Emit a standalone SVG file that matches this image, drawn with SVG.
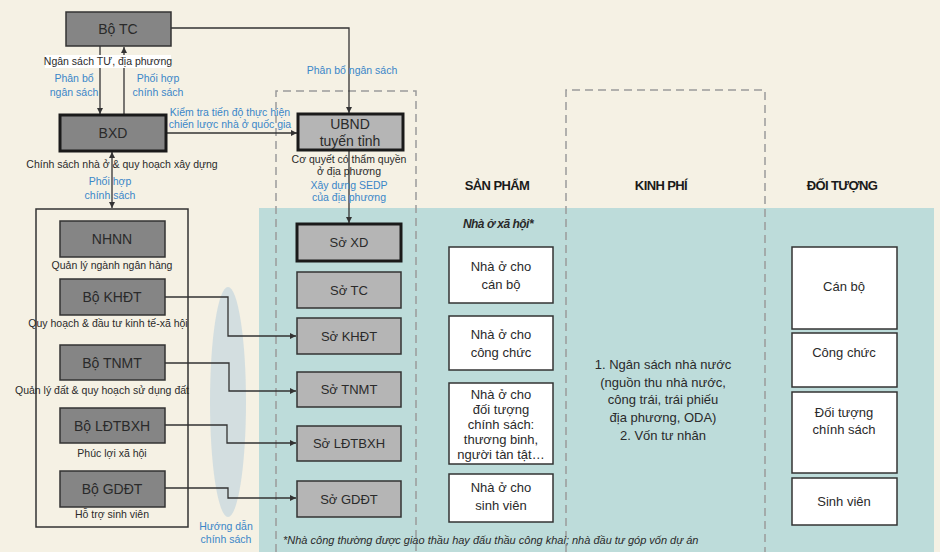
<svg xmlns="http://www.w3.org/2000/svg" width="940" height="552" viewBox="0 0 940 552">
<defs>
<marker id="arr" viewBox="0 0 6 6" refX="6" refY="3" markerWidth="6" markerHeight="6" markerUnits="userSpaceOnUse" orient="auto"><path d="M0,0 L6,3 L0,6 z" fill="#333"/></marker>
<marker id="arrs" viewBox="0 0 6 6" refX="0" refY="3" markerWidth="6" markerHeight="6" markerUnits="userSpaceOnUse" orient="auto"><path d="M6,0 L0,3 L6,6 z" fill="#333"/></marker>
<style>
text{font-family:"Liberation Sans","Noto Sans",sans-serif;fill:#2a2a2a}
.box{fill:#858585;stroke:#333;stroke-width:1.5}
.boxb{fill:#858585;stroke:#1a1a1a;stroke-width:3}
.so{fill:#b5b5b5;stroke:#333;stroke-width:1.5}
.sob{fill:#b5b5b5;stroke:#1a1a1a;stroke-width:3}
.wb{fill:#fff;stroke:#333;stroke-width:1.5}
.bl{font-size:14px;text-anchor:middle}
.sl{font-size:13px;text-anchor:middle}
.lab{font-size:10.5px;text-anchor:middle}
.blue{font-size:10.5px;text-anchor:middle;fill:#3a86c8}
.hd{font-size:13px;font-weight:bold;text-anchor:middle;letter-spacing:-0.6px;fill:#1a1a1a}
.t{font-size:13px;text-anchor:middle}
.dash{fill:none;stroke:#9a9a9a;stroke-width:1.5;stroke-dasharray:8 5}
.ln{fill:none;stroke:#333;stroke-width:1.3}
</style>
</defs>
<rect width="940" height="552" fill="#f5f1e4"/>
<rect x="259" y="208" width="675" height="344" fill="#bddcda"/>
<ellipse cx="228" cy="402" rx="18" ry="115" fill="#cbd9de" opacity="0.8"/>
<path class="dash" d="M276,552 V91 H416 V552"/>
<path class="dash" d="M566,552 V90 H765 V552"/>

<g id="connectors">
<path class="ln" d="M171,28 H349 V113" marker-end="url(#arr)"/>
<path class="ln" d="M100,46 V114" marker-end="url(#arr)"/>
<path class="ln" d="M124,115 V47" marker-end="url(#arr)"/>
<path class="ln" d="M166,133 H297" marker-end="url(#arr)"/>
<path class="ln" d="M112,208 V152" marker-end="url(#arr)" marker-start="url(#arrs)"/>
<path class="ln" d="M349,150 V223" marker-end="url(#arr)"/>
<path class="ln" d="M165,297 H228 V336 H296" marker-end="url(#arr)"/>
<path class="ln" d="M165,363 H229 V391 H296" marker-end="url(#arr)"/>
<path class="ln" d="M165,425 H227 V443 H296" marker-end="url(#arr)"/>
<path class="ln" d="M165,488 H228 V498 H296" marker-end="url(#arr)"/>
</g>

<g id="labels">
<rect x="45" y="55" width="126" height="13" fill="#fff"/>
<text class="lab" x="108" y="65">Ngân sách TƯ, địa phương</text>
<text class="blue" x="74" y="82">Phân bổ</text>
<text class="blue" x="74" y="96">ngân sách</text>
<text class="blue" x="158" y="82">Phối hợp</text>
<text class="blue" x="158" y="96">chính sách</text>
<text class="blue" x="352" y="74">Phân bổ ngân sách</text>
<text class="blue" x="230" y="116">Kiểm tra tiến độ thực hiện</text>
<text class="blue" x="230" y="128">chiến lược nhà ở quốc gia</text>
<text class="lab" x="122" y="168">Chính sách nhà ở &amp; quy hoạch xây dựng</text>
<text class="blue" x="110" y="185">Phối hợp</text>
<text class="blue" x="110" y="199">chính sách</text>
<text class="lab" x="349" y="163">Cơ quyết có thẩm quyền</text>
<text class="lab" x="349" y="175">ở địa phương</text>
<text class="blue" x="349" y="189">Xây dựng SEDP</text>
<text class="blue" x="349" y="201">của địa phương</text>
<text class="blue" x="226" y="530">Hướng dẫn</text>
<text class="blue" x="226" y="543">chính sách</text>
</g>

<g id="bo-tc"><rect class="box" x="66" y="12" width="105" height="34"/><text class="bl" x="118" y="34">Bộ TC</text></g>
<g id="bxd"><rect class="boxb" x="60" y="115" width="106" height="36"/><text class="bl" x="113" y="138">BXD</text></g>
<g id="ubnd"><rect class="sob" x="298" y="114" width="105" height="36"/><text class="bl" x="350" y="129">UBND</text><text class="bl" x="350" y="146">tuyến tỉnh</text></g>

<g id="ministries">
<rect x="36" y="209" width="152" height="318" fill="none" stroke="#333" stroke-width="1.5"/>
<g id="nhnn"><rect class="box" x="60" y="221" width="105" height="36"/><text class="bl" x="112" y="244">NHNN</text><text class="lab" x="112" y="269">Quản lý ngành ngân hàng</text></g>
<g id="bo-khdt"><rect class="box" x="60" y="279" width="105" height="36"/><text class="bl" x="112" y="302">Bộ KHĐT</text><text class="lab" x="108" y="327">Quy hoạch &amp; đầu tư kinh tế-xã hội</text></g>
<g id="bo-tnmt"><rect class="box" x="60" y="345" width="105" height="35"/><text class="bl" x="112" y="368">Bộ TNMT</text><text class="lab" x="102" y="394">Quản lý đất &amp; quy hoạch sử dụng đất</text></g>
<g id="bo-ldtbxh"><rect class="box" x="60" y="408" width="105" height="35"/><text class="bl" x="112" y="431">Bộ LĐTBXH</text><text class="lab" x="112" y="457">Phúc lợi xã hội</text></g>
<g id="bo-gddt"><rect class="box" x="60" y="471" width="105" height="36"/><text class="bl" x="112" y="494">Bộ GDĐT</text><text class="lab" x="112" y="518">Hỗ trợ sinh viên</text></g>
</g>

<g id="so">
<g id="so-xd"><rect class="sob" x="297" y="224" width="104" height="37"/><text class="sl" x="349" y="247">Sở XD</text></g>
<g id="so-tc"><rect class="so" x="297" y="272" width="104" height="36"/><text class="sl" x="349" y="295">Sở TC</text></g>
<g id="so-khdt"><rect class="so" x="297" y="318" width="104" height="36"/><text class="sl" x="349" y="341">Sở KHĐT</text></g>
<g id="so-tnmt"><rect class="so" x="297" y="372" width="104" height="35"/><text class="sl" x="349" y="394">Sở TNMT</text></g>
<g id="so-ldtbxh"><rect class="so" x="297" y="426" width="104" height="35"/><text class="sl" x="349" y="448">Sở LĐTBXH</text></g>
<g id="so-gddt"><rect class="so" x="297" y="481" width="104" height="36"/><text class="sl" x="349" y="504">Sở GDĐT</text></g>
</g>

<text class="hd" x="497" y="190">SẢN PHẨM</text>
<text class="hd" x="661" y="190">KINH PHÍ</text>
<text class="hd" x="842" y="190">ĐỐI TƯỢNG</text>
<text x="498" y="228" font-size="12" font-weight="bold" font-style="italic" text-anchor="middle" letter-spacing="-0.5">Nhà ở xã hội*</text>

<g id="products">
<g id="p1"><rect class="wb" x="449" y="247" width="104" height="56"/><text class="t" x="501" y="271">Nhà ở cho</text><text class="t" x="501" y="289">cán bộ</text></g>
<g id="p2"><rect class="wb" x="449" y="316" width="104" height="54"/><text class="t" x="501" y="339">Nhà ở cho</text><text class="t" x="501" y="357">công chức</text></g>
<g id="p3"><rect class="wb" x="449" y="383" width="104" height="81"/><text class="t" x="501" y="399">Nhà ở cho</text><text class="t" x="501" y="414">đối tượng</text><text class="t" x="501" y="429">chính sách:</text><text class="t" x="501" y="444">thương binh,</text><text class="t" x="501" y="459">người tàn tật…</text></g>
<g id="p4"><rect class="wb" x="449" y="474" width="104" height="48"/><text class="t" x="501" y="492">Nhà ở cho</text><text class="t" x="501" y="510">sinh viên</text></g>
</g>

<g id="funding">
<text class="t" x="663" y="369">1. Ngân sách nhà nước</text>
<text class="t" x="663" y="387">(nguồn thu nhà nước,</text>
<text class="t" x="663" y="404">công trái, trái phiếu</text>
<text class="t" x="663" y="422">địa phương, ODA)</text>
<text class="t" x="663" y="440">2. Vốn tư nhân</text>
</g>

<g id="targets">
<g id="t1"><rect class="wb" x="792" y="247" width="105" height="82"/><text class="t" x="844" y="291">Cán bộ</text></g>
<g id="t2"><rect class="wb" x="792" y="333" width="105" height="54"/><text class="t" x="844" y="357">Công chức</text></g>
<g id="t3"><rect class="wb" x="792" y="392" width="105" height="81"/><text class="t" x="844" y="417">Đối tượng</text><text class="t" x="844" y="434">chính sách</text></g>
<g id="t4"><rect class="wb" x="792" y="478" width="105" height="47"/><text class="t" x="844" y="506">Sinh viên</text></g>
</g>

<text x="283" y="544" font-size="11" font-style="italic">*Nhà công thường được giao thầu hay đấu thầu công khai; nhà đầu tư góp vốn dự án</text>
</svg>
